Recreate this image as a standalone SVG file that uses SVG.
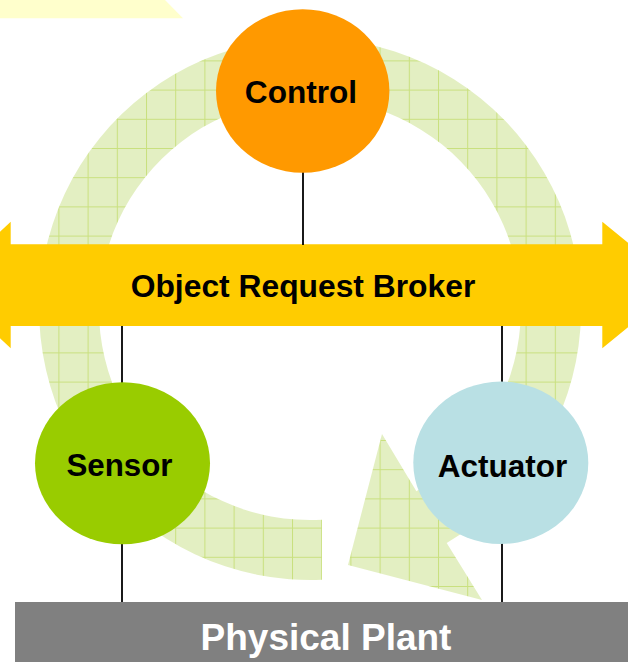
<svg xmlns="http://www.w3.org/2000/svg" width="628" height="662" viewBox="0 0 628 662">
<style>
.lbl{font-family:"Liberation Sans",Arial,sans-serif;font-weight:bold;text-anchor:middle;fill:#000}
.conn line{stroke:#000;stroke-width:1.8}
</style>
<defs>
<pattern id="grid" patternUnits="userSpaceOnUse" x="0" y="2" width="29.2" height="29.2">
<rect width="29.2" height="29.2" fill="#e3efc2"/>
<path d="M0 0.5H29.2M0.5 0V29.2" stroke="#c9e07e" stroke-width="1" fill="none"/>
</pattern>
</defs>
<rect width="628" height="662" fill="#fff"/>
<polygon points="0,0 165,0 183,18.3 0,18.3" fill="#ffffcc"/>
<g id="cycle-arrow">
<path d="M322,579.7 A271,271 0 1 1 446.7,543 L482,600 L348,565 L382,434 L416.4,491.2 A211,211 0 1 0 322,519.7 Z" fill="url(#grid)"/>
</g>
<g id="orb">
<polygon points="-57,285 10.7,221.7 10.7,244.3 602.3,244.3 602.3,221.7 680,285 602.3,348.3 602.3,326 10.7,326 10.7,348.3" fill="#ffcc00"/>
<text class="lbl" x="303" y="297" font-size="31.8">Object Request Broker</text>
</g>
<g class="conn" id="connectors">
<line x1="303" y1="172" x2="303" y2="245"/>
<line x1="122" y1="326" x2="122" y2="383"/>
<line x1="122" y1="543" x2="122" y2="602"/>
<line x1="502" y1="326" x2="502" y2="383"/>
<line x1="502" y1="543" x2="502" y2="602"/>
</g>
<g id="control">
<ellipse cx="302.7" cy="91" rx="86.7" ry="81.7" fill="#ff9900"/>
<text class="lbl" x="301" y="103" font-size="31.6">Control</text>
</g>
<g id="sensor">
<ellipse cx="122.5" cy="463.3" rx="87.5" ry="81" fill="#99cc00"/>
<text class="lbl" x="119.5" y="475.7" font-size="31.3">Sensor</text>
</g>
<g id="actuator">
<ellipse cx="500.8" cy="462.8" rx="87.5" ry="81.2" fill="#b9e0e4"/>
<text class="lbl" x="502.5" y="476.7" font-size="31.5">Actuator</text>
</g>
<g id="physical-plant">
<rect x="15" y="602" width="620" height="62" fill="#808080"/>
<text class="lbl" x="326" y="650" font-size="37" style="fill:#fff">Physical Plant</text>
</g>
</svg>
